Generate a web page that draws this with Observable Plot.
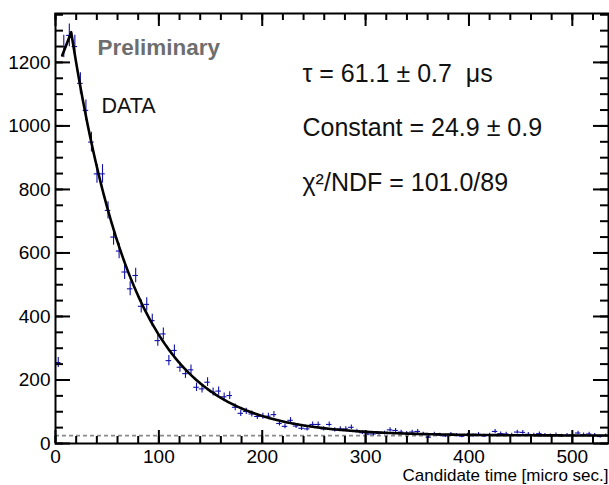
<!DOCTYPE html>
<html><head><meta charset="utf-8">
<script src="https://cdn.jsdelivr.net/npm/d3@7"></script>
<script src="https://cdn.jsdelivr.net/npm/@observablehq/plot@0.6"></script>
<style>body{margin:0;background:#fff}</style>
</head><body><div id="chart"></div>
<script>
// Histogram: 100 bins over [0, 535] micro sec.
const binLow = 0;
const binWidth = 5.35;
const counts = [
  255, 1250, 1285, 1250, 1134, 1049, 949, 849, 849, 734,
  650, 606, 540, 487, 529, 432, 438, 387, 324, 345,
  261, 293, 240, 220, 232, 177, 172, 193, 162, 165,
  147, 151, 114, 95, 101, 93, 85, 86, 86, 91,
  63, 54, 73, 55, 48, 46, 60, 60, 46, 60,
  43, 46, 46, 51, 39, 34, 30, 30, 32, 33,
  43, 41, 36, 32, 36, 38, 30, 20, 30, 27,
  24, 29, 26, 23, 27, 25, 29, 24, 27, 38,
  31, 30, 27, 36, 35, 29, 27, 31, 26, 25,
  28, 24, 26, 27, 33, 28, 30, 26, 22, 25
];
// Fit: A*exp(-t/tau) + C
const fitTau = 61.1;
const fitConst = 24.9;
const fitAmp = 1629;
const fitStart = [6.5, 1222];   // start of the drawn fit line
const fitPeakX = 15.2;
const xMax = 535;
const yMax = 1354;
const xMajorTicks = [0, 100, 200, 300, 400, 500];
const yMajorTicks = [0, 200, 400, 600, 800, 1000, 1200];
const xMinorTicks = d3.range(0, 535, 20);
const yMinorTicks = d3.range(0, 1354, 50);
const statLines = ["τ = 61.1 ± 0.7 \u00a0μs", "Constant = 24.9 ± 0.9", "χ²/NDF = 101.0/89"];
const xTitle = "Candidate time [micro sec.]";

const data = counts.map((c, i) => ({x: binLow + (i + 0.5) * binWidth, y: c, err: Math.sqrt(c)}));
const fitPts = [{x: fitStart[0], y: fitStart[1]}];
for (let t = fitPeakX; t <= xMax; t += 1) fitPts.push({x: t, y: fitAmp * Math.exp(-t / fitTau) + fitConst});
fitPts.push({x: xMax, y: fitAmp * Math.exp(-xMax / fitTau) + fitConst});

const blue = "#1010a8";
const font = "'Liberation Sans', Arial, Helvetica, sans-serif";

// plot geometry (px) used to convert tick lengths to data units
const W = 609, H = 485, mL = 55, mR = 1, mT = 13, mB = 42;
const pxX = xMax / (W - mL - mR), pxY = yMax / (H - mT - mB);
const xMajLen = 13 * pxY, xMinLen = 7 * pxY;   // vertical ticks on x axes
const yMajLen = 15 * pxX, yMinLen = 8 * pxX;   // horizontal ticks on y axes

const tickStyle = {stroke: "black", strokeWidth: 2};
const statStyle = {frameAnchor: "top-left", textAnchor: "start", lineAnchor: "middle", dx: 247, fontSize: 25, fill: "#111"};
const chart = Plot.plot({
  width: W, height: H,
  marginLeft: mL, marginRight: mR, marginTop: mT, marginBottom: mB,
  style: {fontFamily: font, fontSize: "19px", color: "black", background: "white"},
  x: {domain: [0, xMax]},
  y: {domain: [0, yMax]},
  marks: [
    Plot.ruleY([fitConst], {stroke: "#8a8a8a", strokeWidth: 1.6, strokeDasharray: "4,3"}),
    Plot.ruleX(data, {x: "x", y1: d => d.y - d.err, y2: d => d.y + d.err, stroke: blue, strokeWidth: 1.1}),
    Plot.ruleY(data, {y: "y", x1: d => d.x - binWidth / 2, x2: d => d.x + binWidth / 2, stroke: blue, strokeWidth: 1.1}),
    Plot.line(fitPts, {x: "x", y: "y", stroke: "black", strokeWidth: 2.6}),
    // inward ticks on all four sides
    Plot.ruleX(xMajorTicks, {x: d => d, y1: 0, y2: xMajLen, ...tickStyle}),
    Plot.ruleX(xMinorTicks, {x: d => d, y1: 0, y2: xMinLen, ...tickStyle}),
    Plot.ruleX(xMajorTicks, {x: d => d, y1: yMax - xMajLen, y2: yMax, ...tickStyle}),
    Plot.ruleX(xMinorTicks, {x: d => d, y1: yMax - xMinLen, y2: yMax, ...tickStyle}),
    Plot.ruleY(yMajorTicks, {y: d => d, x1: 0, x2: yMajLen, ...tickStyle}),
    Plot.ruleY(yMinorTicks, {y: d => d, x1: 0, x2: yMinLen, ...tickStyle}),
    Plot.ruleY(yMajorTicks, {y: d => d, x1: xMax - yMajLen, x2: xMax, ...tickStyle}),
    Plot.ruleY(yMinorTicks, {y: d => d, x1: xMax - yMinLen, x2: xMax, ...tickStyle}),
    // tick labels
    Plot.axisY({ticks: yMajorTicks, anchor: "left", tickSize: 0, tickPadding: 5, label: null, tickFormat: d => String(d), fontSize: 19}),
    Plot.axisX({ticks: xMajorTicks, anchor: "bottom", tickSize: 0, tickPadding: 6, label: null, tickFormat: d => String(d), fontSize: 19}),
    Plot.frame({stroke: "black", strokeWidth: 2}),
    Plot.text([xTitle], {frameAnchor: "bottom-right", textAnchor: "end", lineAnchor: "middle", dy: 32, fontSize: 17, fill: "black"}),
    Plot.text(["Preliminary"], {frameAnchor: "top-left", textAnchor: "start", lineAnchor: "middle", dx: 42, dy: 34, fontSize: 22.5, fontWeight: "bold", fill: "#6e6e6e"}),
    Plot.text(["DATA"], {frameAnchor: "top-left", textAnchor: "start", lineAnchor: "middle", dx: 46, dy: 93, fontSize: 21.5, fill: "#111"}),
    Plot.text([statLines[0]], {...statStyle, dy: 60}),
    Plot.text([statLines[1]], {...statStyle, dy: 114}),
    Plot.text([statLines[2]], {...statStyle, dy: 169})
  ]
});
document.getElementById("chart").appendChild(chart);
</script>
</body></html>
